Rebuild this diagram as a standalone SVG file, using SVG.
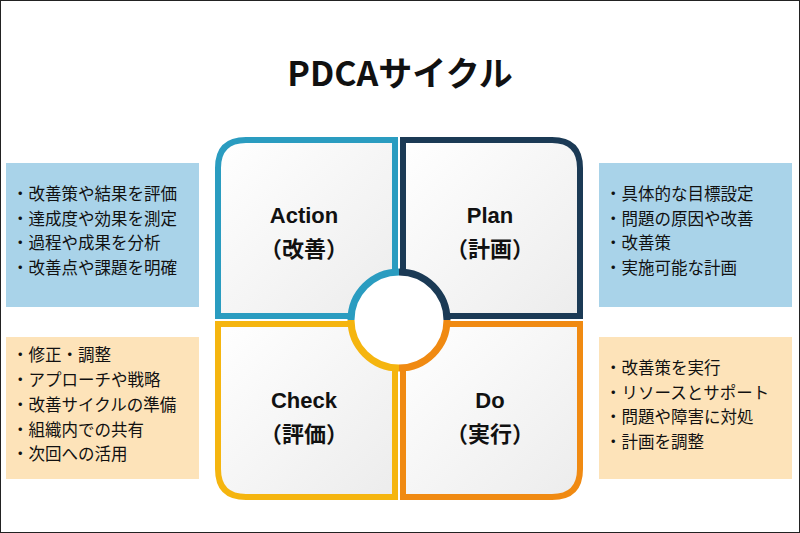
<svg xmlns="http://www.w3.org/2000/svg" width="800" height="533" viewBox="0 0 800 533">
<defs>
<style>
text{font-family:"Noto Sans CJK JP","Liberation Sans",sans-serif;fill:#111}
.t{font-size:16.5px}
.q{font-family:"Liberation Sans","Noto Sans CJK JP",sans-serif;font-size:22px;font-weight:bold;text-anchor:middle}
.cell{fill:url(#g)}
</style>
<linearGradient id="g" x1="0" y1="0" x2="1" y2="1"><stop offset="0" stop-color="#ffffff"/><stop offset="1" stop-color="#ececec"/></linearGradient>
</defs>
<rect x="0.5" y="0.5" width="799" height="532" fill="#fff" stroke="#222"/>
<text x="400" y="86" font-size="34" font-weight="bold" text-anchor="middle">PDCAサイクル</text>
<g id="action-notes"><rect x="6" y="163" width="193" height="144" fill="#a9d3e9"/>
<text class="t" x="12" y="200">・改善策や結果を評価</text><text class="t" x="12" y="225">・達成度や効果を測定</text><text class="t" x="12" y="249">・過程や成果を分析</text><text class="t" x="12" y="274">・改善点や課題を明確</text></g>
<g id="check-notes"><rect x="6" y="337" width="193" height="142" fill="#fde3b9"/>
<text class="t" x="12" y="361">・修正・調整</text><text class="t" x="12" y="386">・アプローチや戦略</text><text class="t" x="12" y="411">・改善サイクルの準備</text><text class="t" x="12" y="436">・組織内での共有</text><text class="t" x="12" y="460">・次回への活用</text></g>
<g id="plan-notes"><rect x="599" y="163" width="193" height="144" fill="#a9d3e9"/>
<text class="t" x="605" y="200">・具体的な目標設定</text><text class="t" x="605" y="225">・問題の原因や改善</text><text class="t" x="605" y="249">・改善策</text><text class="t" x="605" y="274">・実施可能な計画</text></g>
<g id="do-notes"><rect x="599" y="337" width="193" height="142" fill="#fde3b9"/>
<text class="t" x="605" y="374">・改善策を実行</text><text class="t" x="605" y="399">・リソースとサポート</text><text class="t" x="605" y="423">・問題や障害に対処</text><text class="t" x="605" y="448">・計画を調整</text></g>
<g id="action"><path class="cell" d="M218,316 V168 Q218,140 246,140 H395 V316 Z" stroke="#2a9cc0" stroke-width="6"/>
<text class="q" x="304" y="223">Action</text><text class="q" x="304" y="257">（改善）</text></g>
<g id="plan"><path class="cell" d="M403,316 V140 H552 Q580,140 580,168 V316 Z" stroke="#1b3a55" stroke-width="6"/>
<text class="q" x="490" y="223">Plan</text><text class="q" x="490" y="257">（計画）</text></g>
<g id="check"><path class="cell" d="M218,324 H395 V497 H246 Q218,497 218,469 Z" stroke="#f5b50f" stroke-width="6"/>
<text class="q" x="304" y="408">Check</text><text class="q" x="304" y="442">（評価）</text></g>
<g id="do"><path class="cell" d="M403,324 H580 V469 Q580,497 552,497 H403 Z" stroke="#f08a12" stroke-width="6"/>
<text class="q" x="490" y="408">Do</text><text class="q" x="490" y="442">（実行）</text></g>
<g id="center">
<circle cx="399" cy="320" r="51" fill="#fff"/>
<path d="M351,320 A48,48 0 0 1 399,272" fill="none" stroke="#2a9cc0" stroke-width="7"/>
<path d="M399,272 A48,48 0 0 1 447,320" fill="none" stroke="#1b3a55" stroke-width="7"/>
<path d="M447,320 A48,48 0 0 1 399,368" fill="none" stroke="#f08a12" stroke-width="7"/>
<path d="M399,368 A48,48 0 0 1 351,320" fill="none" stroke="#f5b50f" stroke-width="7"/>
</g>
<g id="connectors"/>
</svg>
